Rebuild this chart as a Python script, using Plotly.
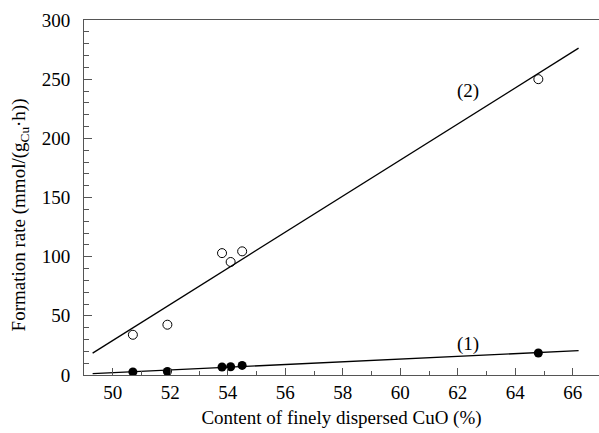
import numpy as np
import plotly.graph_objects as go

# Data
cuo_content = [50.7, 51.9, 53.8, 54.1, 54.5, 64.8]
rate_1 = [2.5, 3.0, 6.8, 7.0, 8.1, 18.6]
rate_2 = [34.0, 42.5, 103.0, 95.5, 104.5, 250.0]
fit_x_range = [49.3, 66.2]
x_ticks = [50, 52, 54, 56, 58, 60, 62, 64, 66]
y_ticks = [0, 50, 100, 150, 200, 250, 300]

FONT = "Liberation Serif, Times New Roman, serif"
FS = 19

fig = go.Figure()

xs = np.array(cuo_content)
fx = np.linspace(fit_x_range[0], fit_x_range[1], 2)
for ys in (rate_1, rate_2):
    k, b = np.polyfit(xs, np.array(ys), 1)
    fig.add_trace(go.Scatter(x=fx, y=k * fx + b, mode="lines",
                             line=dict(color="black", width=1.3),
                             showlegend=False, hoverinfo="skip"))

fig.add_trace(go.Scatter(x=cuo_content, y=rate_2, mode="markers",
                         marker=dict(symbol="circle-open", size=9, color="black",
                                     line=dict(width=1, color="black")),
                         showlegend=False))
fig.add_trace(go.Scatter(x=cuo_content, y=rate_1, mode="markers",
                         marker=dict(symbol="circle", size=9, color="black"),
                         showlegend=False))

fig.add_annotation(x=62.37, y=240.4, text="(2)", showarrow=False,
                   font=dict(family=FONT, size=FS, color="black"))
fig.add_annotation(x=62.37, y=26.4, text="(1)", showarrow=False,
                   font=dict(family=FONT, size=FS, color="black"))

# y-axis title
fig.add_annotation(xref="paper", yref="paper", x=-0.124, y=0.45,
                   xanchor="center", yanchor="middle", textangle=-90,
                   text="Formation rate (mmol/(g<sub>Cu</sub>·h))", showarrow=False,
                   font=dict(family=FONT, size=FS, color="black"))

axis_color = "#555555"
fig.update_xaxes(range=[49, 66.91], tickvals=x_ticks, ticks="inside", ticklen=7,
                 tickcolor=axis_color, tickwidth=1,
                 minor=dict(dtick=1, tick0=49, ticks="inside", ticklen=4,
                            tickcolor=axis_color, tickwidth=1),
                 showline=True, linecolor=axis_color, linewidth=1, mirror=True,
                 showgrid=False, zeroline=False,
                 tickfont=dict(family=FONT, size=FS, color="black"),
                 title=dict(text="Content of finely dispersed CuO (%)",
                            font=dict(family=FONT, size=FS, color="black"),
                            standoff=8))
fig.update_yaxes(range=[0, 300], tickvals=y_ticks, ticks="inside", ticklen=8,
                 tickcolor=axis_color, tickwidth=1,
                 minor=dict(dtick=10, tick0=0, ticks="inside", ticklen=5,
                            tickcolor=axis_color, tickwidth=1),
                 showline=True, linecolor=axis_color, linewidth=1, mirror=False,
                 showgrid=False, zeroline=False, ticklabelstandoff=9,
                 tickfont=dict(family=FONT, size=FS, color="black"))

fig.update_layout(width=599, height=433,
                  margin=dict(l=84, r=0, t=20, b=58),
                  paper_bgcolor="white", plot_bgcolor="white",
                  showlegend=False)

fig.write_html("out.html")
